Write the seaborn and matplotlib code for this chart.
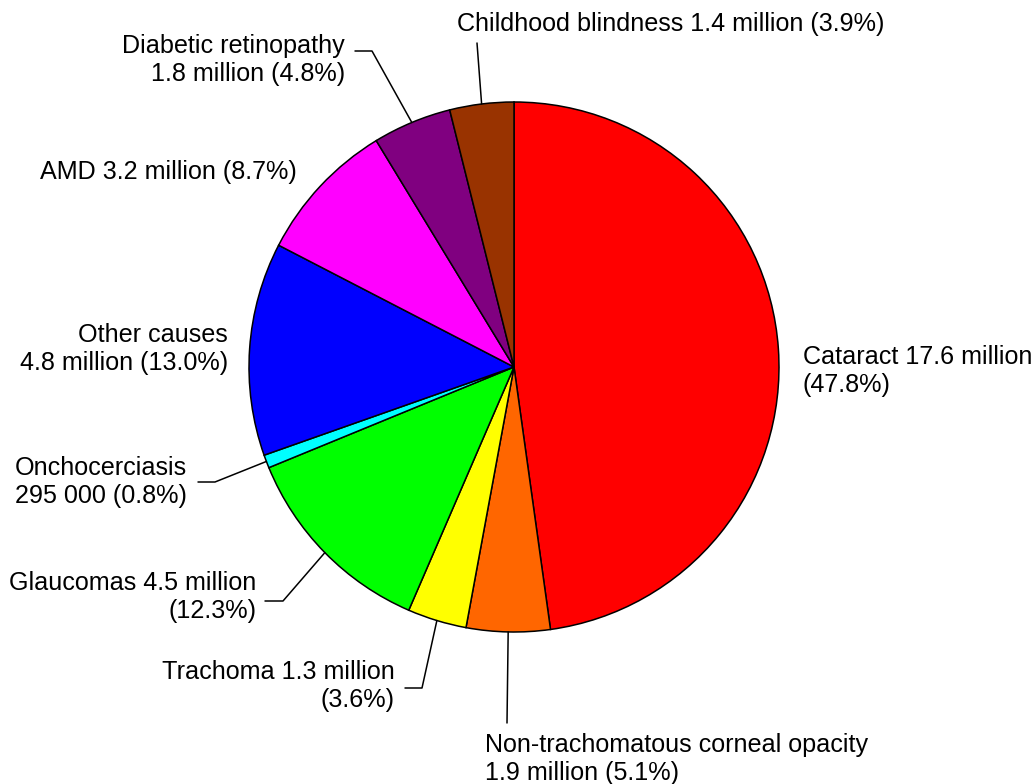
import numpy as np
import seaborn as sns
import matplotlib.pyplot as plt

# Causes of blindness, clockwise from the top of the pie
causes = ['Cataract', 'Non-trachomatous corneal opacity', 'Trachoma', 'Glaucomas',
          'Onchocerciasis', 'Other causes', 'AMD', 'Diabetic retinopathy', 'Childhood blindness']
shares = [47.8, 5.1, 3.6, 12.3, 0.8, 13.0, 8.7, 4.8, 3.9]
cases = ['17.6 million', '1.9 million', '1.3 million', '4.5 million', '295 000',
         '4.8 million', '3.2 million', '1.8 million', '1.4 million']
labels = ['Cataract 17.6 million\n(47.8%)',
          'Non-trachomatous corneal opacity\n1.9 million (5.1%)',
          'Trachoma 1.3 million\n(3.6%)',
          'Glaucomas 4.5 million\n(12.3%)',
          'Onchocerciasis\n295 000 (0.8%)',
          'Other causes\n4.8 million (13.0%)',
          'AMD 3.2 million (8.7%)',
          'Diabetic retinopathy\n1.8 million (4.8%)',
          'Childhood blindness 1.4 million (3.9%)']
colors = ['#FF0000', '#FF6600', '#FFFF00', '#00FF00', '#00FFFF',
          '#0000FF', '#FF00FF', '#800080', '#993300']

sns.set_theme(style='white')
plt.rcParams['font.family'] = ['Liberation Sans', 'DejaVu Sans']

fig = plt.figure(figsize=(10.34, 7.84), dpi=100)
ax = fig.add_axes([0, 0, 1, 1])

cx, cy, r = 514, 367, 265
# y axis is inverted below, so counterclock in data = clockwise on screen
wedges, _ = ax.pie(shares, colors=colors, startangle=-90, counterclock=True,
                   center=(cx, cy), radius=r, frame=True,
                   wedgeprops=dict(edgecolor='black', linewidth=1.1))

# label layout: text position, alignment, leader path (None = no leader)
layout = [
    (803, 371, 'left', None),
    (485, 759, 'left', [(507, 723)]),
    (395, 686, 'right', [(422, 688), (405, 688)]),
    (256, 597, 'right', [(283, 601), (265, 601)]),
    (15, 482, 'left', [(215, 482), (198, 482)]),
    (228, 349, 'right', None),
    (297, 172, 'right', None),
    (345, 60, 'right', [(372, 51), (355, 51)]),
    (457, 24, 'left', [(477, 43)]),
]

for w, lab, (tx, ty, ha, path) in zip(wedges, labels, layout):
    ax.text(tx, ty, lab, ha=ha, va='center', fontsize=18.1, color='black',
            linespacing=1.25)
    if path:
        mid = np.deg2rad((w.theta1 + w.theta2) / 2)
        ax_pt = (cx + r * np.cos(mid), cy + r * np.sin(mid))
        xs = [ax_pt[0]] + [p[0] for p in path]
        ys = [ax_pt[1]] + [p[1] for p in path]
        ax.plot(xs, ys, color='black', linewidth=1.1)

ax.set_xlim(0, 1034)
ax.set_ylim(784, 0)
ax.set_aspect('equal')
ax.axis('off')

fig.savefig('out.png', dpi=100)
